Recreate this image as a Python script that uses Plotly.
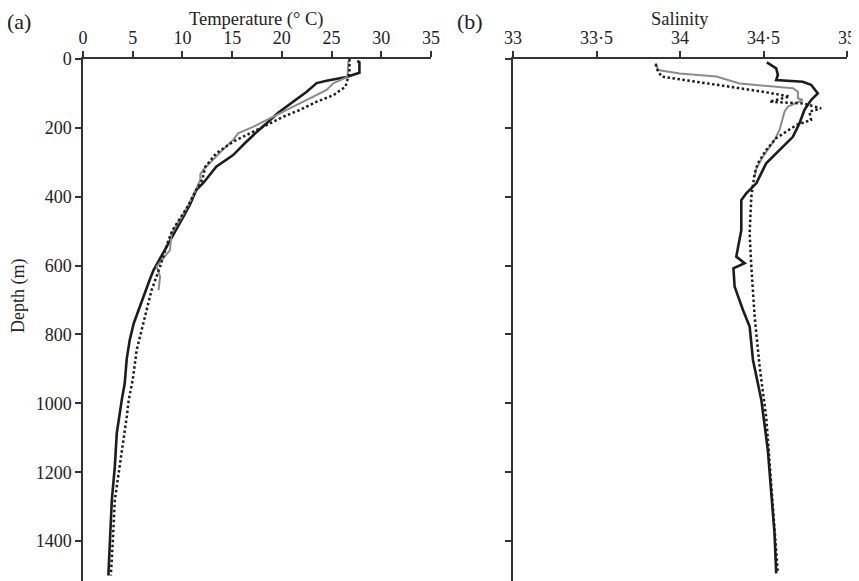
import plotly.graph_objects as go

# ---------------- data ----------------
# Temperature profiles (depth m, temperature °C)
temp_black_depth = [5, 10, 40, 52, 63, 70, 95, 116, 134, 157, 186, 211, 244, 279, 313, 360, 380, 420, 458, 526, 570, 613, 642, 690, 768, 816, 870, 941, 990, 1086, 1184, 1281, 1400, 1500]
temp_black_val = [27.6, 27.8, 27.8, 26.5, 24.5, 23.5, 22.5, 21.5, 20.6, 19.6, 18.5, 17.5, 16.3, 15.1, 13.4, 12.1, 11.4, 10.8, 10.1, 8.75, 7.9, 7.1, 6.7, 6.1, 5.1, 4.7, 4.4, 4.2, 3.9, 3.4, 3.2, 2.9, 2.7, 2.55]

temp_gray_depth = [5, 50, 55, 70, 90, 110, 138, 153, 177, 197, 216, 235, 265, 293, 313, 322, 335, 351, 370, 418, 460, 506, 555, 580, 603, 632, 671]
temp_gray_val = [26.7, 26.6, 26.4, 25.2, 24.5, 23.1, 21.2, 20.2, 18.5, 17.1, 15.6, 15.1, 14.0, 13.1, 12.4, 12.1, 11.8, 11.8, 11.5, 10.7, 9.9, 8.9, 8.75, 8.0, 7.4, 7.75, 7.6]

temp_dot_depth = [0, 40, 80, 105, 124, 148, 167, 192, 216, 240, 274, 313, 351, 380, 430, 497, 526, 603, 671, 748, 816, 845, 932, 990, 1039, 1184, 1232, 1281, 1400, 1500]
temp_dot_val = [26.8, 26.8, 26.4, 25.2, 23.5, 21.8, 20.2, 18.5, 16.8, 15.1, 13.4, 12.3, 12.0, 11.4, 10.5, 9.0, 8.6, 7.75, 6.9, 6.25, 5.7, 5.4, 5.0, 4.6, 4.4, 3.7, 3.45, 3.2, 3.0, 2.8]

# Salinity profiles (depth m, salinity)
sal_black_depth = [10, 27, 46, 61, 66, 75, 100, 119, 148, 187, 226, 264, 303, 361, 390, 410, 497, 574, 593, 608, 661, 729, 777, 874, 990, 1136, 1378, 1494]
sal_black_val = [34.52, 34.576, 34.586, 34.576, 34.735, 34.785, 34.825, 34.785, 34.745, 34.715, 34.676, 34.596, 34.516, 34.457, 34.397, 34.367, 34.367, 34.337, 34.387, 34.32, 34.327, 34.377, 34.417, 34.437, 34.487, 34.526, 34.566, 34.576]

sal_gray_depth = [12, 32, 42, 51, 71, 85, 95, 114, 119, 138, 153, 206, 235, 284, 318, 342]
sal_gray_val = [33.855, 33.869, 33.998, 34.218, 34.357, 34.676, 34.706, 34.706, 34.735, 34.646, 34.626, 34.596, 34.566, 34.496, 34.457, 34.447]

sal_dot_depth = [15, 27, 51, 66, 80, 95, 109, 124, 129, 143, 153, 177, 192, 211, 230, 264, 303, 332, 361, 400, 506, 603, 748, 894, 1039, 1232, 1494]
sal_dot_val = [33.855, 33.859, 33.889, 34.098, 34.297, 34.496, 34.656, 34.536, 34.735, 34.845, 34.775, 34.785, 34.696, 34.636, 34.576, 34.516, 34.466, 34.447, 34.437, 34.427, 34.417, 34.427, 34.447, 34.477, 34.516, 34.546, 34.586]

temp_ticks = [0, 5, 10, 15, 20, 25, 30, 35]
sal_ticks = [33, 33.5, 34, 34.5, 35]
sal_tick_text = ["33", "33·5", "34", "34·5", "35"]
depth_ticks = [0, 200, 400, 600, 800, 1000, 1200, 1400]

# ---------------- figure ----------------
OFF = 8  # page body margin
W, H = 859 - OFF, 581 - OFF
FONT = "Liberation Serif"
BLACK = "#1c1c1c"
GRAY = "#8c8c8c"
AXC = "#333333"
TXT = "#222222"

fig = go.Figure()

fig.add_trace(go.Scatter(x=temp_black_val, y=temp_black_depth, mode="lines",
                         line=dict(color=BLACK, width=2.6), xaxis="x", yaxis="y"))
fig.add_trace(go.Scatter(x=temp_gray_val, y=temp_gray_depth, mode="lines",
                         line=dict(color=GRAY, width=2), xaxis="x", yaxis="y"))
fig.add_trace(go.Scatter(x=temp_dot_val, y=temp_dot_depth, mode="lines",
                         line=dict(color=BLACK, width=2.5, dash="2.5px,2.5px"), xaxis="x", yaxis="y"))

fig.add_trace(go.Scatter(x=sal_black_val, y=sal_black_depth, mode="lines",
                         line=dict(color=BLACK, width=2.6), xaxis="x2", yaxis="y2"))
fig.add_trace(go.Scatter(x=sal_gray_val, y=sal_gray_depth, mode="lines",
                         line=dict(color=GRAY, width=2), xaxis="x2", yaxis="y2"))
fig.add_trace(go.Scatter(x=sal_dot_val, y=sal_dot_depth, mode="lines",
                         line=dict(color=BLACK, width=2.5, dash="2.5px,2.5px"), xaxis="x2", yaxis="y2"))


def px_x(p):
    return (p - OFF) / W


def px_y(p):
    return 1 - (p - OFF) / H


ydom = [0, px_y(59)]
yrange = [1516, 0]

TICKFONT = dict(family=FONT, size=18, color=TXT)
common_x = dict(side="top", showline=True, linecolor=AXC, linewidth=1.5, ticks="outside",
                ticklen=6, tickwidth=1.5, tickcolor=AXC, showgrid=False, zeroline=False,
                tickfont=TICKFONT, automargin=False, fixedrange=True)
common_y = dict(range=yrange, showline=True, linecolor=AXC, linewidth=1.5, ticks="outside",
                ticklen=6, tickwidth=1.5, tickcolor=AXC, showgrid=False, zeroline=False,
                tickvals=depth_ticks, tickfont=TICKFONT, automargin=False, fixedrange=True)

fig.update_layout(
    width=W, height=H,
    margin=dict(l=0, r=0, t=0, b=0),
    paper_bgcolor="white", plot_bgcolor="white",
    showlegend=False,
    font=dict(family=FONT, size=18, color=TXT),
    xaxis=dict(domain=[px_x(83), px_x(431)], range=[0, 35], tickvals=temp_ticks,
               anchor="y", **common_x),
    yaxis=dict(domain=ydom, anchor="x", **common_y),
    xaxis2=dict(domain=[px_x(513), px_x(847)], range=[33, 35], tickvals=sal_ticks,
                ticktext=sal_tick_text, anchor="y2", **common_x),
    yaxis2=dict(domain=ydom, anchor="x2", showticklabels=False, **common_y),
    annotations=[
        dict(text="(a)", x=px_x(19), y=px_y(21), xref="paper", yref="paper",
             showarrow=False, font=dict(family=FONT, size=22, color=TXT),
             xanchor="center", yanchor="middle"),
        dict(text="(b)", x=px_x(470), y=px_y(21), xref="paper", yref="paper",
             showarrow=False, font=dict(family=FONT, size=22, color=TXT),
             xanchor="center", yanchor="middle"),
        dict(text="Temperature (° C)", x=px_x(257), y=px_y(19), xref="paper", yref="paper",
             showarrow=False, font=dict(family=FONT, size=18.5, color=TXT),
             xanchor="center", yanchor="middle"),
        dict(text="Salinity", x=px_x(680), y=px_y(19), xref="paper", yref="paper",
             showarrow=False, font=dict(family=FONT, size=18.5, color=TXT),
             xanchor="center", yanchor="middle"),
        dict(text="Depth (m)", x=px_x(18), y=px_y(296), xref="paper", yref="paper",
             showarrow=False, textangle=-90, font=dict(family=FONT, size=18, color=TXT),
             xanchor="center", yanchor="middle"),
    ],
)

fig.write_html("out.html")
